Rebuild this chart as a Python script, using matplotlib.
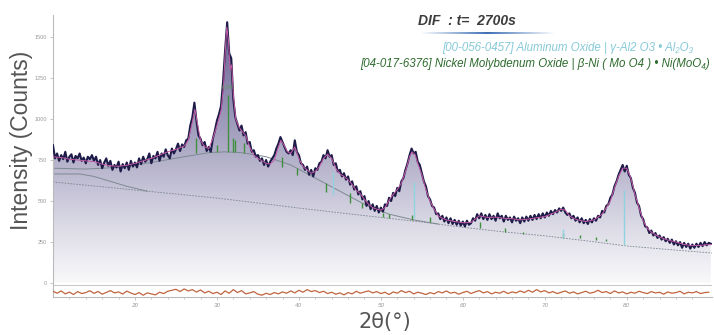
import numpy as np
import matplotlib
matplotlib.use("Agg")
import matplotlib.pyplot as plt
from matplotlib.colors import LinearSegmentedColormap

plt.rcParams['font.family'] = ['Liberation Sans', 'DejaVu Sans']

# observed pattern, 2theta from 10.0 in 0.25 deg steps
tt_start = 10.0
tt_step = 0.25
counts = [
    840, 760, 790, 745, 780, 755, 800, 740, 770, 785, 735, 775, 760, 790, 745, 765, 730, 770, 755, 780,
    745, 770, 720, 750, 700, 735, 760, 715, 745, 690, 720, 705, 740, 680, 725, 700, 735, 690, 745, 710,
    735, 705, 760, 725, 770, 740, 755, 790, 730, 775, 760, 800, 745, 790, 770, 815, 780, 760, 820, 790,
    815, 850, 805, 845, 830, 870, 880, 960, 1010, 1100, 990, 900, 880, 840, 860, 805, 830, 800, 880, 930,
    990, 1030, 1080, 1230, 1420, 1590, 1400, 1370, 1120, 1010, 970, 930, 960, 900, 920, 850, 860, 800, 810, 770,
    780, 745, 760, 720, 750, 710, 740, 760, 780, 820, 850, 890, 860, 830, 800, 790, 810, 780, 870, 800,
    780, 730, 720, 690, 710, 660, 690, 650, 700, 690, 730, 740, 780, 760, 810, 770, 780, 720, 730, 680,
    690, 650, 670, 630, 650, 600, 620, 570, 590, 540, 560, 510, 530, 470, 500, 450, 480, 440, 470, 430,
    460, 435, 480, 470, 520, 500, 550, 530, 580, 560, 620, 640, 690, 730, 780, 820, 790, 800, 740, 720,
    670, 620, 590, 530, 510, 470, 460, 420, 425, 390, 410, 375, 400, 365, 395, 360, 385, 355, 380, 350,
    375, 345, 380, 355, 365, 395, 380, 420, 395, 425, 390, 415, 385, 420, 390, 410, 380, 425, 395, 410,
    375, 410, 385, 400, 370, 405, 380, 395, 365, 400, 375, 405, 380, 410, 385, 415, 390, 420, 395, 425,
    400, 430, 410, 440, 420, 445, 430, 455, 440, 460, 430, 415, 425, 395, 410, 380, 400, 370, 395, 365,
    385, 360, 390, 370, 395, 380, 410, 400, 440, 430, 470, 480, 520, 540, 590, 620, 660, 690, 720, 680,
    715, 660, 640, 580, 550, 490, 470, 410, 390, 345, 340, 305, 320, 290, 305, 275, 290, 265, 280, 255,
    270, 245, 265, 235, 255, 230, 250, 215, 245, 220, 240, 210, 235, 215, 240, 220, 245, 225, 250, 230,
    245, 240,
]
two_theta = tt_start + tt_step * np.arange(len(counts))

# calculated profile
fit_tt = [10, 11, 12, 13, 14, 15, 16, 17, 18, 19, 20, 21, 22, 23, 24, 25, 26, 26.5, 27, 27.3, 27.6,
          28, 28.5, 29, 29.5, 30, 30.5, 30.8, 31.0, 31.2, 31.4, 31.6, 31.8, 32.0, 32.3, 32.7, 33.0,
          33.5, 34, 34.5, 35, 35.5, 36, 36.5, 37, 37.5, 37.8, 38.2, 38.6, 39, 39.5, 40, 40.5, 41,
          41.5, 42, 42.5, 43, 43.5, 44, 44.5, 45, 45.5, 46, 46.5, 47, 47.5, 48, 48.5, 49, 49.5, 50,
          50.5, 51, 51.5, 52, 52.5, 53, 53.5, 53.8, 54.2, 54.5, 55, 55.5, 56, 56.5, 57, 57.5, 58,
          58.5, 59, 59.5, 60, 60.5, 61, 61.5, 62, 62.5, 63, 64, 65, 66, 67, 68, 69, 70, 71, 72, 72.5,
          73, 73.5, 74, 75, 76, 77, 77.5, 78, 78.5, 79, 79.5, 80, 80.5, 81, 81.5, 82, 82.5, 83, 83.5,
          84, 85, 86, 87, 88, 89, 90.3]
fit_counts = [770, 765, 755, 750, 745, 740, 725, 715, 712, 718, 730, 745, 760, 780, 800, 815, 835, 870,
              980, 1060, 980, 870, 830, 820, 880, 960, 1050, 1200, 1400, 1560, 1480, 1300, 1330, 1150,
              1000, 950, 930, 900, 830, 780, 760, 745, 730, 725, 750, 830, 870, 840, 800, 790, 830, 760,
              710, 690, 670, 680, 710, 760, 785, 760, 700, 665, 650, 630, 600, 565, 545, 510, 480, 460,
              450, 445, 460, 505, 540, 570, 610, 680, 770, 800, 780, 730, 660, 570, 500, 450, 410, 395,
              385, 380, 375, 372, 368, 368, 370, 390, 410, 405, 400, 402, 395, 392, 385, 390, 398, 405,
              425, 450, 445, 410, 395, 385, 375, 385, 420, 460, 500, 580, 650, 700, 700, 640, 540, 460,
              380, 335, 310, 295, 280, 262, 250, 235, 228, 230, 235]

# background curves
bg_tt = [10, 15, 20, 25, 30, 35, 40, 45, 50, 55, 60, 65, 70, 75, 80, 85, 90.4]
bg_counts = [616, 592, 567, 543, 518, 488, 457, 428, 400, 372, 340, 312, 288, 258, 226, 205, 183]
hump_tt = [10, 14, 18, 22, 26, 29, 31, 33, 36, 39, 42, 45, 48, 51, 54, 57]
hump_counts = [700, 695, 705, 735, 770, 795, 800, 795, 770, 720, 640, 560, 480, 420, 385, 360]
decay_tt = [10, 13.3, 15, 17, 19, 21.5]
decay_counts = [665, 665, 650, 620, 590, 560]

# difference curve (offset below zero), 0.5 deg steps from 10
diff_step = 0.5
diff = [
    -50, -62, -48, -66, -55, -70, -52, -64, -58, -47,
    -63, -51, -68, -57, -46, -60, -54, -67, -49, -61,
    -70, -58, -74, -60, -66, -72, -56, -64, -50, -44,
    -38, -52, -36, -48, -40, -55, -42, -60, -50, -64,
    -56, -70, -48, -62, -40, -58, -46, -66, -60, -52,
    -68, -74, -62, -70, -58, -66, -54, -62, -48, -60,
    -44, -56, -40, -52, -46, -58, -50, -64, -56, -68,
    -60, -72, -58, -66, -50, -62, -54, -48, -60, -52,
    -64, -56, -70, -54, -62, -46, -58, -50, -66, -56,
    -62, -70, -58, -66, -52, -60, -48, -62, -56, -68,
    -58, -50, -64, -54, -46, -60, -52, -66, -56, -62,
    -50, -64, -54, -60, -48, -58, -44, -56, -40, -54,
    -46, -60, -52, -64, -56, -48, -62, -54, -66, -58,
    -50, -62, -56, -44, -58, -52, -64, -48, -60, -54,
    -66, -56, -62, -50, -58, -64, -52, -60, -56, -68,
    -54, -62, -58, -50, -66, -56, -60, -52, -64, -58,
    -56,
]
diff_tt = tt_start + diff_step * np.arange(len(diff))

# reference sticks: position, bottom, top
al2o3_pos = [44.1, 54.0, 72.2, 79.7]
al2o3_lo = [537, 396, 275, 232]
al2o3_hi = [677, 616, 330, 567]
nimo_pos = [27.5, 30.0, 31.3, 32.0, 32.2, 33.3, 37.9, 39.8, 43.3, 46.2, 47.7, 50.3, 51.0, 53.8,
            56.0, 62.1, 65.1, 67.3, 72.2, 74.3, 76.2, 77.5]
nimo_lo = [793, 799, 799, 799, 799, 793, 707, 659, 555, 488, 457, 402, 398, 384,
           372, 335, 311, 299, 274, 274, 262, 255]
nimo_hi = [884, 841, 1146, 884, 872, 853, 768, 701, 610, 549, 488, 427, 420, 415,
           402, 372, 335, 311, 305, 293, 280, 270]

x_ticks = [20, 30, 40, 50, 60, 70, 80]
y_ticks = [0, 250, 500, 750, 1000, 1250, 1500]

fig = plt.figure(figsize=(7.14, 3.35), dpi=100)
ax = fig.add_axes([53 / 714, 38 / 335, 659 / 714, 282 / 335])
xmin, xmax = 10, 90.4
ymin, ymax = -85, 1634
ax.set_xlim(xmin, xmax)
ax.set_ylim(ymin, ymax)

# gradient fill under the observed curve
cmap = LinearSegmentedColormap.from_list(
    "fill", [(0, "#f9f9fb"), (0.2, "#dddce7"), (0.45, "#b5b2cb"), (1.0, "#615c90")])
grad = np.linspace(0, 1, 256).reshape(-1, 1)
img = ax.imshow(grad, extent=[xmin, xmax, 0, 1634], origin="lower", aspect="auto",
                cmap=cmap, zorder=1)
poly = ax.fill_between(two_theta, counts, 0, color="none", lw=0)
img.set_clip_path(poly.get_paths()[0], ax.transData)

ax.plot(bg_tt, bg_counts, color="#7d8590", lw=0.6, ls=(0, (2, 1.5)), zorder=2)
ax.plot(hump_tt, hump_counts, color="#7d8a92", lw=0.7, zorder=2)
ax.plot(decay_tt, decay_counts, color="#7d8a92", lw=0.7, zorder=2)

ax.vlines(nimo_pos, nimo_lo, nimo_hi, color="#3f8f3f", lw=1.0, zorder=3)
ax.vlines(al2o3_pos, al2o3_lo, al2o3_hi, color="#8fd3e0", lw=1.0, zorder=3)
ax.text(31.3, 1175, "6.5%", color="#5a9a5a", fontsize=4, ha="center", va="bottom", zorder=6)

ax.plot(two_theta, counts, color="#1d1b48", lw=1.5, zorder=4)
ax.plot(fit_tt, fit_counts, color="#c45aa6", lw=0.7, zorder=5)

# difference band
ax.axhline(-12, color="#c9c9c9", lw=0.8, zorder=2)
ax.plot(diff_tt, diff, color="#c0643f", lw=0.9, zorder=4)

for side in ["top", "right"]:
    ax.spines[side].set_visible(False)
for side in ["left", "bottom"]:
    ax.spines[side].set_color("#bbbbbb")
    ax.spines[side].set_linewidth(0.8)
ax.set_xticks(x_ticks)
ax.set_xticks(np.arange(12, 90, 2), minor=True)
ax.set_yticks(y_ticks)
ax.tick_params(axis="both", which="major", labelsize=4, colors="#bbbbbb", labelcolor="#999999",
               length=2.5, width=0.6, pad=2)
ax.tick_params(axis="x", which="minor", colors="#bbbbbb", length=1.5, width=0.5)
ax.tick_params(axis="x", which="major", labelsize=4.5)
for lab in ax.get_xticklabels():
    lab.set_style("italic")

fig.text(22 / 714, 1 - 140 / 335, "Intensity (Counts)", rotation=90, ha="center", va="center",
         fontsize=16.5, color="#555555")
fig.text(385 / 714, 1 - 322 / 335, "2θ(°)", ha="center", va="center", fontsize=15,
         color="#555555", family=["DejaVu Sans"])

fig.text(467 / 714, 1 - 21 / 335, "DIF  : t=  2700s", ha="center", va="center", fontsize=10,
         fontweight="bold", style="italic", color="#3c3c3c")
# fading underline below the title
uax = fig.add_axes([420 / 714, 1 - 34.5 / 335, 135 / 714, 2.5 / 335])
fade = np.zeros((1, 200, 4))
fade[..., 0] = 0.25
fade[..., 1] = 0.44
fade[..., 2] = 0.71
fade[0, :, 3] = 1 - np.abs(np.linspace(-1, 1, 200))
uax.imshow(fade, aspect="auto", interpolation="bilinear")
uax.axis("off")

fig.text(693 / 714, 1 - 48 / 335, "[00-056-0457] Aluminum Oxide | γ-Al2 O3 • Al₂O₃",
         ha="right", va="center", fontsize=8.3, style="italic", color="#86c9d8")
fig.text(710 / 714, 1 - 64 / 335, "[04-017-6376] Nickel Molybdenum Oxide | β-Ni ( Mo O4 ) • Ni(MoO₄)",
         ha="right", va="center", fontsize=8.3, style="italic", color="#2e6b2e")

fig.savefig("out.png", dpi=100)
